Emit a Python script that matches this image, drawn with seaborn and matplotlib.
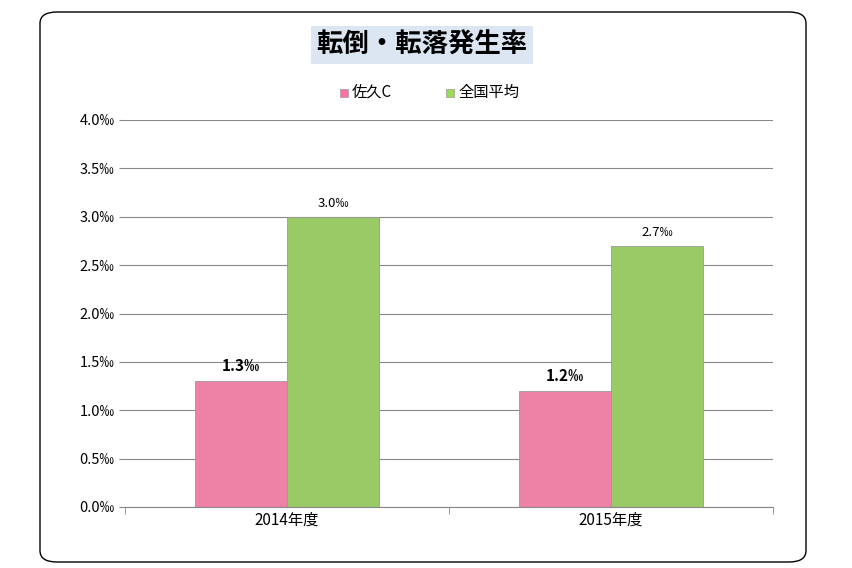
import matplotlib
matplotlib.use("Agg")
import matplotlib.pyplot as plt
import seaborn as sns
import pandas as pd
from matplotlib.patches import FancyBboxPatch

plt.rcParams["font.family"] = "Noto Sans CJK JP"

years = ["2014年度", "2015年度"]
series = ["佐久C", "全国平均"]
saku = [1.3, 1.2]
national = [3.0, 2.7]
yticks = [0.0, 0.5, 1.0, 1.5, 2.0, 2.5, 3.0, 3.5, 4.0]

df = pd.DataFrame({
    "year": years * 2,
    "series": [series[0]] * 2 + [series[1]] * 2,
    "value": saku + national,
})

fig = plt.figure(figsize=(8.52, 5.68), dpi=100)
fig.patches.append(FancyBboxPatch((40/852, 6/568), 766/852, 550/568,
                                  boxstyle="round,pad=0,rounding_size=0.02",
                                  transform=fig.transFigure, fill=False,
                                  edgecolor="black", linewidth=1))
ax = fig.add_axes([125/852, 61/568, 648/852, 387/568])
sns.barplot(data=df, x="year", y="value", hue="series",
            palette=["#FF6FA0", "#9ADB55"], width=0.57, ax=ax,
            edgecolor="#999999", linewidth=0.6, legend=False)
ax.set_ylim(0, 4.0)
ax.set_xlim(-0.5, 1.5)
ax.set_yticks(yticks)
ax.set_yticklabels([f"{v:.1f}‰" for v in yticks], fontsize=10.5)
ax.tick_params(axis="x", length=0, labelsize=11)
ax.set_xticks([-0.5, 0.5, 1.5], minor=True)
ax.tick_params(axis="x", which="minor", length=5, color="#888888")
ax.tick_params(axis="y", length=4, color="#888888")
ax.grid(axis="y", color="#888888", linewidth=0.8)
ax.set_axisbelow(True)
for s in ["top", "right", "left"]:
    ax.spines[s].set_visible(False)
ax.spines["bottom"].set_color("#888888")
ax.set_xlabel("")
ax.set_ylabel("")

for i, c in enumerate(ax.containers):
    vals = saku if i == 0 else national
    ax.bar_label(c, labels=[f"{v:.1f}‰" for v in vals], padding=5,
                 fontsize=11 if i == 0 else 9.5,
                 fontweight="bold" if i == 0 else "normal")

fig.text(422/852, 1 - 45/568, "転倒・転落発生率", ha="center", va="center",
         fontsize=19, fontweight="bold",
         bbox=dict(facecolor="#DCE6F2", edgecolor="none", pad=4))
for x, lab, col in [(340, series[0], "#FF6FA0"), (446, series[1], "#9ADB55")]:
    fig.patches.append(plt.Rectangle((x/852, 1 - 97/568), 8/852, 8/568,
                                     transform=fig.transFigure, facecolor=col,
                                     edgecolor="#999999", linewidth=0.5))
    fig.text((x + 12)/852, 1 - 92/568, lab, ha="left", va="center", fontsize=11)

fig.savefig("out.png", dpi=100)
